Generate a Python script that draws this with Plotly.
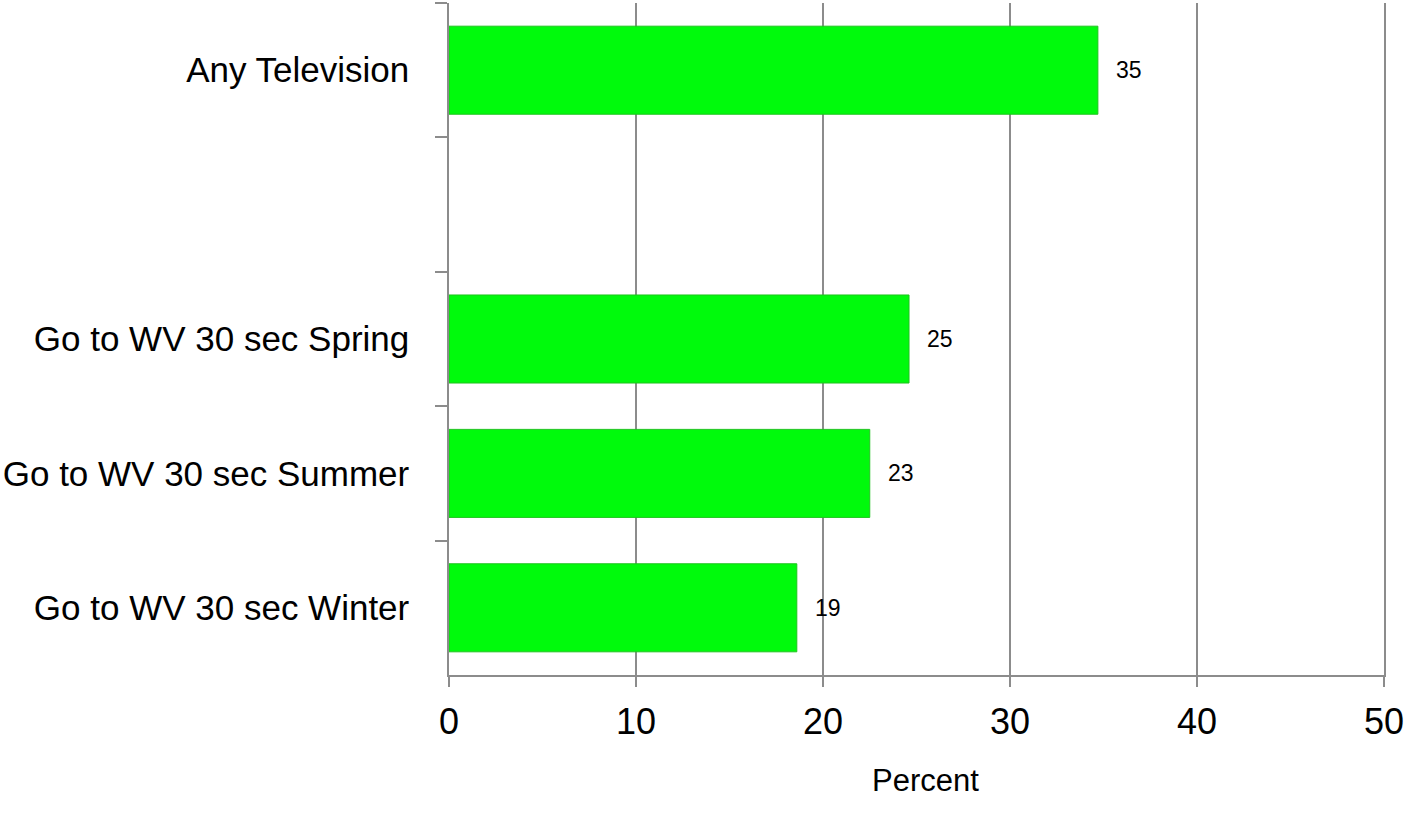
import plotly.graph_objects as go

categories = ["Any Television", " ", "Go to WV 30 sec Spring",
              "Go to WV 30 sec Summer", "Go to WV 30 sec Winter"]
values = [34.7, None, 24.6, 22.5, 18.6]
value_labels = ["35", "", "25", "23", "19"]
x_ticks = [0, 10, 20, 30, 40, 50]
axis_title = "Percent"

FONT = "Liberation Sans, Arial, sans-serif"
GRAY = "#8c8c8c"

fig = go.Figure()
fig.add_trace(go.Bar(
    y=categories,
    x=values,
    orientation="h",
    width=0.655,
    marker=dict(color="#00fa0c", line=dict(color="#1fc41f", width=1)),
    hoverinfo="x+y",
    showlegend=False,
))

for cat, val, lab in zip(categories, values, value_labels):
    if val is None or not lab:
        continue
    fig.add_annotation(
        x=val, y=cat, xref="x", yref="y",
        text=lab, showarrow=False,
        xanchor="left", yanchor="middle", xshift=16,
        font=dict(family=FONT, size=23, color="black"),
    )

fig.add_annotation(
    x=0.51, y=0, xref="paper", yref="paper",
    text=axis_title, showarrow=False,
    xanchor="center", yanchor="middle", yshift=-105,
    font=dict(family=FONT, size=31, color="black"),
)

fig.update_xaxes(
    range=[0, 50],
    tickvals=x_ticks,
    ticktext=[str(t) for t in x_ticks],
    showgrid=True, gridcolor=GRAY, gridwidth=1.5,
    showline=True, linecolor=GRAY, linewidth=1.5,
    ticks="outside", ticklen=10, tickcolor=GRAY, tickwidth=1.5,
    ticklabelstandoff=4,
    zeroline=False,
    tickfont=dict(family=FONT, size=36, color="black"),
)
fig.update_yaxes(
    type="category",
    categoryorder="array", categoryarray=categories,
    autorange="reversed",
    tickson="boundaries",
    showgrid=False,
    showline=True, linecolor=GRAY, linewidth=1.5, mirror=True,
    ticks="outside", ticklen=12, tickcolor=GRAY, tickwidth=1.5,
    ticklabelstandoff=31,
    tickfont=dict(family=FONT, size=35, color="black"),
)

fig.update_layout(
    width=1407, height=820,
    margin=dict(l=447, r=22, t=3, b=145),
    paper_bgcolor="white", plot_bgcolor="white",
    bargap=0.345,
    font=dict(family=FONT, color="black"),
)

fig.write_html("out.html", config={"displayModeBar": False},
               post_script="document.body.style.margin='0';")
